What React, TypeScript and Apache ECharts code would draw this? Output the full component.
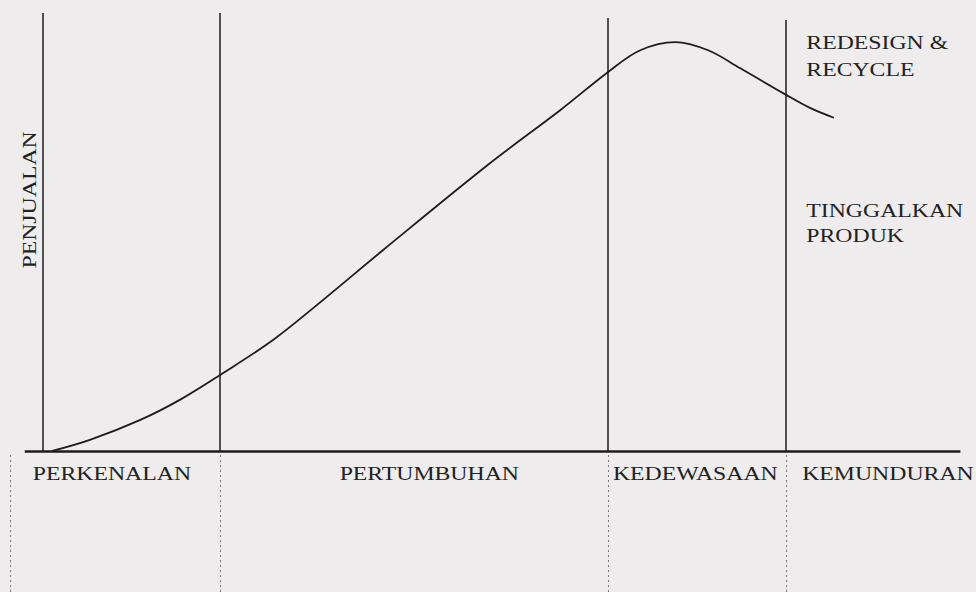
import React, { useEffect, useRef } from "react";
import * as echarts from "echarts";

// Sales curve (time units vs sales units)
const curveX = [1.0, 5.1, 10.6, 14.9, 19.3, 25.1, 30.5, 37.1, 48.5, 56.4, 61.6, 65.1, 68.9, 72.5, 76.0, 81.0, 83.6, 86.2];
const curveY = [0, 2.7, 7.6, 12.5, 18.6, 27.2, 36.9, 49.2, 70.0, 83.4, 92.7, 98.0, 100, 98.0, 93.6, 87.1, 83.9, 81.5];

// Stage boundaries (time units) and their top heights
const stageBounds = [0, 19.3, 61.6, 81.0];
const stageTops = [107.1, 107.1, 105.9, 105.4];
const dottedBounds = [-3.6, 19.3, 61.6, 81.0];
const stageNames = ["PERKENALAN", "PERTUMBUHAN", "KEDEWASAAN", "KEMUNDURAN"];
const stageLabelX = [7.5, 42.1, 71.1, 92.1];
const yAxisTitle = "PENJUALAN";
const noteLines = ["REDESIGN &", "RECYCLE", "TINGGALKAN", "PRODUK"];
const noteY = [99.8, 93.2, 58.7, 52.6];

const X_MIN = -4.7;
const X_MAX = 101.7;
const Y_MIN = -34.5;
const Y_MAX = 110.3;

export default function App() {
  const ref = useRef<HTMLDivElement>(null);
  useEffect(() => {
    if (!ref.current) return;
    const chart = echarts.init(ref.current, null, { renderer: "svg" });
    const ink = "#1c1c1c";
    const markData: any[] = [];
    stageBounds.forEach((b, i) => {
      markData.push([
        { coord: [b, 0], lineStyle: { color: ink, width: 1.5, type: "solid" } },
        { coord: [b, stageTops[i]] },
      ]);
    });
    dottedBounds.forEach((b) => {
      markData.push([
        { coord: [b, -1], lineStyle: { color: "#777", width: 1, type: [2, 3] } },
        { coord: [b, Y_MIN] },
      ]);
    });
    markData.push([
      { coord: [-2, 0], lineStyle: { color: ink, width: 2.5, type: "solid" } },
      { coord: [100, 0] },
    ]);

    chart.setOption({
      animation: false,
      backgroundColor: "#eeeced",
      grid: { left: 0, right: 0, top: 0, bottom: 0 },
      xAxis: {
        type: "value",
        min: X_MIN,
        max: X_MAX,
        show: false,
      },
      yAxis: {
        type: "value",
        min: Y_MIN,
        max: Y_MAX,
        show: false,
      },
      series: [
        {
          type: "line",
          data: curveX.map((x, i) => [x, curveY[i]]),
          smooth: 0.35,
          symbol: "none",
          lineStyle: { color: ink, width: 1.8 },
          z: 3,
          markLine: {
            silent: true,
            symbol: ["none", "none"],
            label: { show: false },
            emphasis: { disabled: true },
            data: markData,
          },
        },
      ],
    });

    const px = (x: number, y: number) =>
      chart.convertToPixel({ gridIndex: 0 }, [x, y]) as number[];
    const font = { fontFamily: "Liberation Serif", fontSize: 19, fill: "#222" };
    const SX = 1.25;
    const graphics: any[] = [];
    stageNames.forEach((name, i) => {
      const p = px(stageLabelX[i], -5.6);
      graphics.push({
        type: "text",
        x: p[0],
        y: p[1],
        scaleX: SX,
        style: { ...font, text: name, align: "center", verticalAlign: "middle" },
      });
    });
    noteLines.forEach((t, i) => {
      const p = px(83.2, noteY[i]);
      graphics.push({
        type: "text",
        x: p[0],
        y: p[1],
        scaleX: SX,
        style: { ...font, text: t, align: "left", verticalAlign: "middle" },
      });
    });
    const pt = px(-1.4, 61.4);
    graphics.push({
      type: "text",
      x: pt[0],
      y: pt[1],
      rotation: Math.PI / 2,
      scaleX: SX,
      style: { ...font, text: yAxisTitle, align: "center", verticalAlign: "middle" },
    });
    chart.setOption({ graphic: graphics });

    return () => chart.dispose();
  }, []);
  return (
    <div
      ref={ref}
      style={{ position: "fixed", left: 0, top: 0, width: 976, height: 592 }}
    />
  );
}
